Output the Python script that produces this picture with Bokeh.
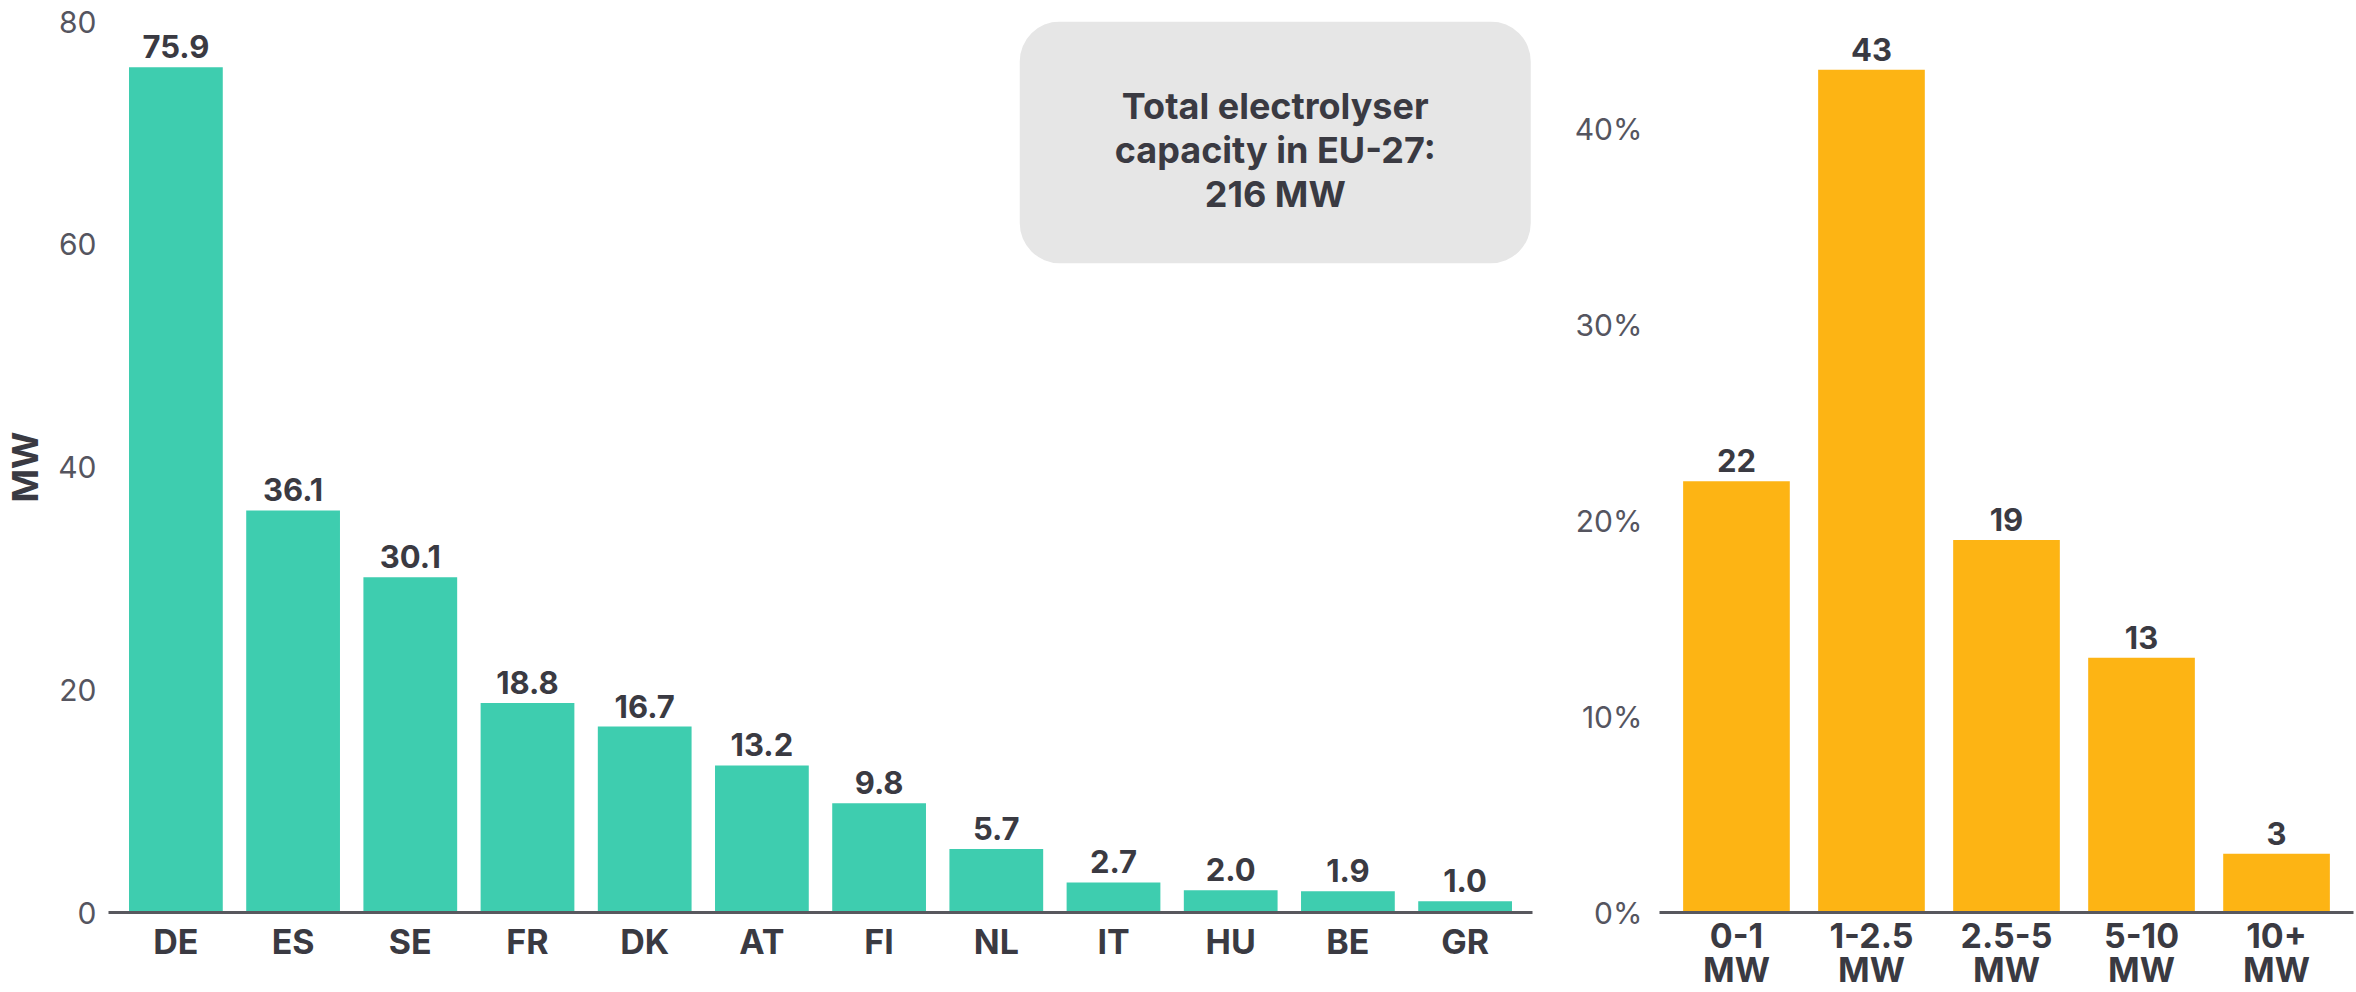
from bokeh.plotting import figure
from bokeh.models import (FactorRange, Range1d, FixedTicker, PrintfTickFormatter,
                          BoxAnnotation, Label, ColumnDataSource)
from bokeh.layouts import row
from bokeh.embed import file_html
from bokeh.resources import INLINE
from bokeh.core.properties import value

# ---- data ----
countries = ["DE", "ES", "SE", "FR", "DK", "AT", "FI", "NL", "IT", "HU", "BE", "GR"]
capacity_mw = [75.9, 36.1, 30.1, 18.8, 16.7, 13.2, 9.8, 5.7, 2.7, 2.0, 1.9, 1.0]
size_classes = ["0-1\nMW", "1-2.5\nMW", "2.5-5\nMW", "5-10\nMW", "10+\nMW"]
size_share_pct = [22, 43, 19, 13, 3]
left_yticks = [0, 20, 40, 60, 80]
right_yticks = [0, 10, 20, 30, 40]
left_ylabel = "MW"
total_text = "Total electrolyser\ncapacity in EU-27:\n216 MW"

FONT = "Inter"
TEAL = "#3ecdaf"
ORANGE = "#fdb414"
DARK = "#3a3a42"
GREY = "#55555f"
AXIS = "#58585e"
H = 992


def style(p):
    p.outline_line_color = None
    p.xgrid.grid_line_color = None
    p.ygrid.grid_line_color = None
    p.background_fill_color = "white"
    p.border_fill_color = "white"
    xa = p.xaxis[0]
    xa.axis_line_color = AXIS
    xa.axis_line_width = 3
    xa.major_tick_line_color = None
    xa.minor_tick_line_color = None
    xa.major_tick_out = 0
    xa.major_tick_in = 0
    xa.major_label_text_font = FONT
    xa.major_label_text_font_style = "bold"
    xa.major_label_text_font_size = "34px"
    xa.major_label_text_color = DARK
    ya = p.yaxis[0]
    ya.axis_line_color = None
    ya.major_tick_line_color = None
    ya.minor_tick_line_color = None
    ya.major_tick_out = 0
    ya.major_tick_in = 0
    ya.major_label_text_font = FONT
    ya.major_label_text_font_size = "30px"
    ya.major_label_text_color = GREY


# ---- left chart ----
src1 = ColumnDataSource(dict(x=countries, y=capacity_mw,
                             label=[f"{v:.1f}" for v in capacity_mw]))
p1 = figure(width=1568, height=H, title=None,
            x_range=FactorRange(factors=countries, range_padding=0.075,
                                range_padding_units="absolute"),
            y_range=Range1d(0, 80),
            output_backend="svg", toolbar_location=None,
            min_border_left=102, min_border_right=36,
            min_border_top=21, min_border_bottom=H - 912)
style(p1)
p1.xaxis[0].major_label_standoff = 8
p1.yaxis[0].ticker = FixedTicker(ticks=left_yticks)
p1.yaxis[0].major_label_standoff = 12
p1.yaxis[0].axis_label = left_ylabel
p1.yaxis[0].axis_label_text_font = FONT
p1.yaxis[0].axis_label_text_font_style = "bold"
p1.yaxis[0].axis_label_text_font_size = "36px"
p1.yaxis[0].axis_label_text_color = DARK
p1.yaxis[0].axis_label_standoff = 8

box = BoxAnnotation(left=7.70, right=12.06, bottom=58.3, top=80,
                    fill_color="#e6e6e6", fill_alpha=1.0, line_color=None,
                    border_radius=40, level="underlay")
p1.add_layout(box)
p1.add_layout(Label(x=9.88, y=68.5, text=total_text, text_align="center",
                    text_baseline="middle", text_font=FONT, text_font_style="bold",
                    text_font_size="36px", text_color=DARK, text_line_height=1.0))

p1.vbar(x="x", top="y", width=0.8, source=src1, fill_color=TEAL, line_color=None)
p1.text(x="x", y="y", text="label", source=src1, text_align="center",
        text_baseline="bottom", y_offset=-9, text_font=value(FONT),
        text_font_style="bold", text_font_size="31px", text_color=DARK)

# ---- right chart ----
src2 = ColumnDataSource(dict(x=size_classes, y=size_share_pct,
                             label=[str(v) for v in size_share_pct]))
p2 = figure(width=786, height=H, title=None,
            x_range=FactorRange(factors=size_classes, range_padding=0.07,
                                range_padding_units="absolute"),
            y_range=Range1d(0, 45.46),
            output_backend="svg", toolbar_location=None,
            min_border_left=91, min_border_right=1,
            min_border_top=21, min_border_bottom=H - 912)
style(p2)
p2.xaxis[0].major_label_text_line_height = 0.83
p2.xaxis[0].major_label_standoff = 2
p2.yaxis[0].ticker = FixedTicker(ticks=right_yticks)
p2.yaxis[0].formatter = PrintfTickFormatter(format="%d%%")
p2.yaxis[0].major_label_standoff = 17

p2.vbar(x="x", top="y", width=0.79, source=src2, fill_color=ORANGE, line_color=None)
p2.text(x="x", y="y", text="label", source=src2, text_align="center",
        text_baseline="bottom", y_offset=-9, text_font=value(FONT),
        text_font_style="bold", text_font_size="31px", text_color=DARK)

layout = row(p1, p2)
open("out.html", "w").write(file_html(layout, INLINE))
